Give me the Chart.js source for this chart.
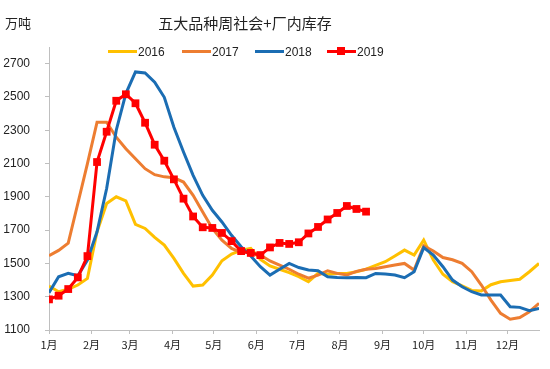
<!DOCTYPE html>
<html>
<head>
<meta charset="utf-8">
<script src="https://cdn.jsdelivr.net/npm/chart.js@4.4.1/dist/chart.umd.min.js"></script>
<style>
  body { margin: 0; background: #fff; }
  #wrap { position: relative; width: 550px; height: 369px; }
  #unit { position: absolute; left: 5px; top: 13px; font: 13px "Noto Sans CJK SC", sans-serif; color: #222; }
  #title { position: absolute; left: 0; width: 490px; top: 12px; text-align: center; font: 15px "Noto Sans CJK SC", sans-serif; color: #222; }
  #legend { position: absolute; top: 44px; left: 0; width: 550px; height: 16px; font: 12px "Liberation Sans", Arial, sans-serif; color: #222; }
  .item { position: absolute; top: 0; height: 16px; line-height: 16px; }
  .sw { position: absolute; top: 6px; height: 3px; width: 29px; }
  .mk { position: absolute; top: 3px; left: 10px; width: 8px; height: 8px; }
  .lb { position: absolute; left: 30px; }
</style>
</head>
<body>
<div id="wrap">
  <canvas id="stock"></canvas>
  <div id="unit">万吨</div>
  <div id="title">五大品种周社会+厂内库存</div>
  <div id="legend"></div>
</div>
<script>
// weekly stock, 万吨 (one value per week, week 0 = first week of Jan)
const seriesNames = ['2016', '2017', '2018', '2019'];
const seriesColors = ['#FFC000', '#ED7D31', '#1B6DB3', '#FF0000'];

const stock2016 = [1364, 1330, 1345, 1370, 1410, 1690, 1860, 1900, 1875, 1735, 1710, 1656, 1610, 1530, 1440, 1364, 1370, 1430, 1516, 1556, 1580, 1590, 1525, 1485, 1465, 1445, 1420, 1390, 1440, 1435, 1440, 1440, 1450, 1465, 1488, 1510, 1545, 1580, 1550, 1640, 1520, 1435, 1390, 1365, 1338, 1335, 1372, 1390, 1398, 1405, 1450, 1500];
const stock2017 = [1546, 1578, 1622, 1860, 2100, 2348, 2348, 2258, 2189, 2129, 2069, 2033, 2020, 2015, 1989, 1909, 1809, 1710, 1640, 1590, 1566, 1565, 1550, 1515, 1490, 1465, 1435, 1412, 1430, 1456, 1440, 1430, 1452, 1465, 1470, 1480, 1490, 1500, 1460, 1605, 1575, 1535, 1522, 1500, 1450, 1370, 1280, 1200, 1165, 1175, 1210, 1260];
const stock2018 = [1324, 1420, 1440, 1426, 1520, 1690, 1950, 2300, 2520, 2650, 2644, 2588, 2498, 2318, 2169, 2029, 1909, 1819, 1749, 1669, 1600, 1545, 1480, 1430, 1465, 1500, 1475, 1460, 1456, 1420, 1416, 1414, 1416, 1414, 1440, 1436, 1430, 1414, 1450, 1595, 1550, 1480, 1400, 1360, 1330, 1310, 1310, 1310, 1240, 1236, 1216, 1230];
const stock2019 = [1284, 1306, 1346, 1416, 1544, 2109, 2291, 2477, 2516, 2462, 2345, 2213, 2117, 2005, 1889, 1782, 1717, 1713, 1683, 1634, 1574, 1563, 1550, 1596, 1623, 1617, 1627, 1680, 1719, 1764, 1803, 1845, 1827, 1811];

// month ticks: day of year on which each month starts
const monthLabels = ['1月', '2月', '3月', '4月', '5月', '6月', '7月', '8月', '9月', '10月', '11月', '12月'];
const monthStartDays = [0, 31, 59, 90, 120, 151, 181, 212, 243, 273, 304, 334];
const yTicks = [1100, 1300, 1500, 1700, 1900, 2100, 2300, 2500, 2700];

const allSeries = [stock2016, stock2017, stock2018, stock2019];
const toPoints = arr => arr.map((v, i) => ({ x: i, y: v }));

const datasets = allSeries.map((arr, i) => ({
  label: seriesNames[i],
  data: toPoints(arr),
  borderColor: seriesColors[i],
  backgroundColor: seriesColors[i],
  borderWidth: 3,
  pointRadius: i === 3 ? 5.5 : 0,
  pointStyle: 'rect',
  pointBorderWidth: 0,
  tension: 0,
  order: 3 - i
}));

// simple html legend
const legendLeft = [108, 182, 255, 327];
const legendEl = document.getElementById('legend');
seriesNames.forEach((name, i) => {
  const it = document.createElement('div');
  it.className = 'item';
  it.style.left = legendLeft[i] + 'px';
  let html = '<div class="sw" style="background:' + seriesColors[i] + '"></div>';
  if (i === 3) html += '<div class="mk" style="background:' + seriesColors[i] + '"></div>';
  html += '<span class="lb">' + name + '</span>';
  it.innerHTML = html;
  legendEl.appendChild(it);
});

const axisColor = '#BFBFBF';

new Chart(document.getElementById('stock'), {
  type: 'line',
  data: { datasets },
  options: {
    responsive: true,
    maintainAspectRatio: false,
    animation: false,
    layout: { padding: { top: 47, right: 11, left: 0, bottom: 0 } },
    plugins: { legend: { display: false }, tooltip: { enabled: false } },
    scales: {
      x: {
        type: 'linear',
        min: 0,
        max: 51,
        afterBuildTicks: scale => { scale.ticks = monthStartDays.map(d => ({ value: d / 7 })); },
        afterFit: scale => { scale.height = 39; },
        ticks: {
          autoSkip: false,
          maxRotation: 0,
          padding: 4,
          color: '#222',
          font: { family: '"Noto Sans CJK SC", sans-serif', size: 11 },
          callback: (v, i) => monthLabels[i]
        },
        grid: { drawOnChartArea: false, drawTicks: true, tickLength: 4, color: axisColor },
        border: { color: axisColor }
      },
      y: {
        min: 1100,
        max: 2800,
        afterBuildTicks: scale => { scale.ticks = yTicks.map(v => ({ value: v })); },
        afterFit: scale => { scale.width = 49; },
        ticks: {
          padding: 15,
          color: '#222',
          font: { family: '"Liberation Sans", Arial, sans-serif', size: 12 },
          callback: v => String(v)
        },
        grid: { drawOnChartArea: false, drawTicks: true, tickLength: 4, color: axisColor },
        border: { color: axisColor }
      }
    }
  }
});
</script>
</body>
</html>
